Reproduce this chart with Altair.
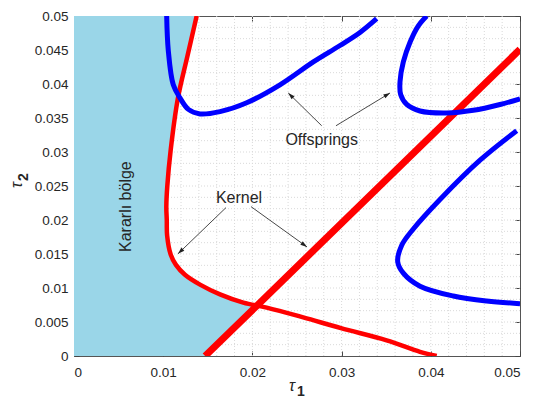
import math
import altair as alt
import pandas as pd

# ---------------- data ----------------
red_curve_x = [0.01375, 0.0127, 0.01166, 0.01084, 0.01046, 0.01035, 0.0104, 0.01044, 0.01084,
               0.01143, 0.01244, 0.01413, 0.01637, 0.01898, 0.0216, 0.0257, 0.02993, 0.03505,
               0.03879, 0.04066]
red_curve_y = [0.05, 0.0440, 0.0380, 0.0303, 0.025, 0.022, 0.020, 0.01773, 0.01493,
               0.0134, 0.01195, 0.0105, 0.00906, 0.00785, 0.00712, 0.00568, 0.00409, 0.00231,
               0.00062, 0.0]

red_line_x = [0.0147, 0.0205, 0.05]
red_line_y = [0.0, 0.0074, 0.0451]

blue1_x = [0.01039, 0.01057, 0.01113, 0.01188, 0.01282, 0.01413, 0.01637, 0.01936, 0.02309,
           0.02683, 0.02982, 0.03206, 0.03393]
blue1_y = [0.05, 0.04494, 0.03988, 0.03796, 0.03627, 0.03560, 0.03594, 0.03724, 0.03988,
           0.04325, 0.04566, 0.04758, 0.04961]

blue2_x = [0.03954, 0.0386, 0.03767, 0.03692, 0.03655, 0.03662, 0.0373, 0.03879, 0.04178,
           0.04477, 0.04776, 0.05]
blue2_y = [0.05, 0.04855, 0.04614, 0.04325, 0.04036, 0.03844, 0.03699, 0.03603, 0.03574,
           0.03613, 0.03699, 0.03782]

blue3_x = [0.04963, 0.04552, 0.04103, 0.03804, 0.03674, 0.03629, 0.03692, 0.03879, 0.04252,
           0.04626, 0.05]
blue3_y = [0.03314, 0.0288, 0.02302, 0.01868, 0.01629, 0.01387, 0.01218, 0.01026, 0.00882,
           0.00809, 0.0077]

x_ticks = [0, 0.01, 0.02, 0.03, 0.04, 0.05]
y_ticks = [round(k * 0.005, 4) for k in range(11)]
x_grid = [round(k * 0.002, 4) for k in range(1, 25)]
y_grid = [k * 0.05 / 30 for k in range(1, 30)]

label_text = ["Kernel", "Offsprings"]
label_x = [0.0185, 0.02777]
label_y = [0.02327, 0.03179]

region_text = ["Kararlı bölge"]
region_x = [0.00583]
region_y = [0.02197]

arrow_x0 = [0.01704, 0.01984, 0.02777, 0.02937]
arrow_y0 = [0.02182, 0.02197, 0.03386, 0.03386]
arrow_x1 = [0.01166, 0.02612, 0.02402, 0.03543]
arrow_y1 = [0.01503, 0.01604, 0.03868, 0.03868]

# ---------------- layout ----------------
W, H = 446, 340
XMAX, YMAX = 0.05, 0.05
FONT = "Liberation Sans"
TXT = "#262626"

xs = alt.Scale(domain=[0, XMAX], nice=False, zero=False)
ys = alt.Scale(domain=[0, YMAX], nice=False, zero=False)

def line_df(xv, yv):
    return pd.DataFrame({"x": xv, "y": yv, "i": list(range(len(xv)))})

# shaded stable region boundary: along the diagonal, then along the kernel curve
pairs = sorted([(y, x) for x, y in zip(red_curve_x, red_curve_y) if y > red_line_y[1]])
shade_y = red_line_y[:2] + [p[0] for p in pairs]
shade_x = red_line_x[:2] + [p[1] for p in pairs]
shade_df = line_df(shade_x, shade_y)

main_x_axis = alt.Axis(orient="bottom", values=x_ticks, format="~g", ticks=False, tickSize=0,
                       domain=False, grid=False, labelPadding=9, title=None)
main_y_axis = alt.Axis(orient="left", values=y_ticks, format="~g", ticks=False, tickSize=0,
                       domain=False, grid=False, labelPadding=6, title=None)

def tick_axis(orient, values, off):
    return alt.Axis(orient=orient, values=values, labels=False, domain=False, grid=False,
                    ticks=True, tickSize=5, tickColor="#444", offset=off, title=None)

vgrid = alt.Chart(pd.DataFrame({"v": x_grid})).mark_rule(
    color="#d9d9d9", strokeDash=[1, 2], strokeWidth=1
).encode(x=alt.X("v:Q", scale=xs, axis=None))

hgrid = alt.Chart(pd.DataFrame({"v": y_grid})).mark_rule(
    color="#d9d9d9", strokeDash=[1, 2], strokeWidth=1
).encode(y=alt.Y("v:Q", scale=ys, axis=None))

shade = alt.Chart(shade_df).mark_area(orient="horizontal", color="#9AD6E8", opacity=1,
                                      interpolate="linear").encode(
    y=alt.Y("y:Q", scale=ys, axis=main_y_axis),
    x=alt.X("x:Q", scale=xs, axis=main_x_axis, stack=None),
)

CURVE = "catmull-rom"

red_curve = alt.Chart(line_df(red_curve_x, red_curve_y)).mark_line(
    color="#FF0000", strokeWidth=4.5, clip=True, interpolate=CURVE
).encode(
    x=alt.X("x:Q", scale=xs, axis=tick_axis("top", x_ticks, -H)),
    y=alt.Y("y:Q", scale=ys, axis=tick_axis("right", y_ticks, -W)),
    order="i:Q",
)

red_line = alt.Chart(line_df(red_line_x, red_line_y)).mark_line(
    color="#FF0000", strokeWidth=7, clip=True
).encode(
    x=alt.X("x:Q", scale=xs, axis=tick_axis("bottom", x_ticks, -H)),
    y=alt.Y("y:Q", scale=ys, axis=tick_axis("left", y_ticks, -W)),
    order="i:Q",
)

def blue(xv, yv):
    return alt.Chart(line_df(xv, yv)).mark_line(
        color="#0000FF", strokeWidth=5, clip=True, interpolate=CURVE
    ).encode(
        x=alt.X("x:Q", scale=xs, axis=None),
        y=alt.Y("y:Q", scale=ys, axis=None),
        order="i:Q",
    )

arrows = pd.DataFrame({"x0": arrow_x0, "y0": arrow_y0, "x1": arrow_x1, "y1": arrow_y1})
arrows["ang"] = [
    math.degrees(math.atan2((a1 - a0) * W / XMAX, (b1 - b0) * H / YMAX)) % 360
    for a0, b0, a1, b1 in zip(arrow_x0, arrow_y0, arrow_x1, arrow_y1)
]

arrow_lines = alt.Chart(arrows).mark_rule(color="#333333", strokeWidth=0.9).encode(
    x=alt.X("x0:Q", scale=xs, axis=None),
    y=alt.Y("y0:Q", scale=ys, axis=None),
    x2="x1:Q",
    y2="y1:Q",
)

arrow_heads = alt.Chart(arrows).mark_point(
    shape="M0,0L0.32,1L-0.32,1Z", filled=True, color="#222222", size=180, opacity=1
).encode(
    x=alt.X("x1:Q", scale=xs, axis=None),
    y=alt.Y("y1:Q", scale=ys, axis=None),
    angle=alt.Angle("ang:Q", scale=None),
)

labels = alt.Chart(pd.DataFrame({"t": label_text, "x": label_x, "y": label_y})).mark_text(
    font=FONT, fontSize=16, color=TXT, align="center", baseline="middle"
).encode(
    x=alt.X("x:Q", scale=xs, axis=None),
    y=alt.Y("y:Q", scale=ys, axis=None),
    text="t:N",
)

region = alt.Chart(pd.DataFrame({"t": region_text, "x": region_x, "y": region_y})).mark_text(
    font=FONT, fontSize=16, color=TXT, align="center", baseline="middle", angle=270
).encode(
    x=alt.X("x:Q", scale=xs, axis=None),
    y=alt.Y("y:Q", scale=ys, axis=None),
    text="t:N",
)

one = pd.DataFrame({"a": [0]})
tau_x = alt.Chart(one).mark_text(font=FONT, fontSize=16, color=TXT, fontStyle="italic",
                                  align="center", baseline="middle", text="τ").encode(
    x=alt.value(218), y=alt.value(370))
sub_x = alt.Chart(one).mark_text(font=FONT, fontSize=14, color=TXT, fontWeight="bold",
                                  align="center", baseline="middle", text="1").encode(
    x=alt.value(227), y=alt.value(376))
tau_y = alt.Chart(one).mark_text(font=FONT, fontSize=16, color=TXT, fontStyle="italic",
                                  align="center", baseline="middle", text="τ", angle=270).encode(
    x=alt.value(-57), y=alt.value(169))
sub_y = alt.Chart(one).mark_text(font=FONT, fontSize=14, color=TXT, fontWeight="bold",
                                  align="center", baseline="middle", text="2", angle=270).encode(
    x=alt.value(-50), y=alt.value(161))

chart = alt.layer(
    vgrid, hgrid, shade, red_curve, red_line,
    blue(blue1_x, blue1_y), blue(blue2_x, blue2_y), blue(blue3_x, blue3_y),
    arrow_lines, arrow_heads, labels, region, tau_x, sub_x, tau_y, sub_y,
).resolve_axis(x="independent", y="independent").properties(
    width=W, height=H,
    padding={"left": 66, "top": 8, "right": 6, "bottom": 44},
    autosize=alt.AutoSizeParams(type="none"),
).configure_view(
    stroke="#555555", strokeWidth=1
).configure_axis(
    labelFont=FONT, labelFontSize=13.5, labelColor=TXT
)

chart.save("out.html", embed_options={"renderer": "svg", "actions": False})
